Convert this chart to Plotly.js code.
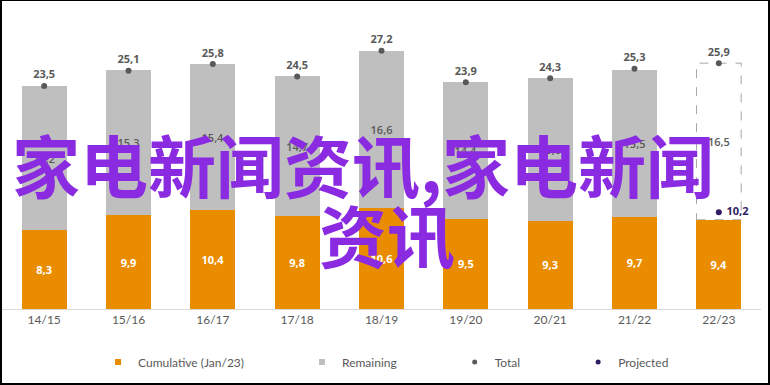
<!DOCTYPE html>
<html>
<head>
<meta charset="utf-8">
<script src="https://cdn.plot.ly/plotly-3.0.1.min.js"></script>
<style>
html,body{margin:0;padding:0;background:#fff;}
#chart{box-sizing:border-box;width:770px;height:385px;border-style:solid;border-color:#000;border-width:1px 2px 2px 2px;}
</style>
</head>
<body>
<div id="chart"></div>
<script>
var seasons = ["14/15","15/16","16/17","17/18","18/19","19/20","20/21","21/22","22/23"];
var cumulative = [8.3, 9.9, 10.4, 9.8, 10.6, 9.5, 9.3, 9.7, 9.4];
var remaining = [15.2, 15.3, 15.4, 14.7, 16.6, 14.4, 15.0, 15.5, 16.5];
var totals = [23.5, 25.1, 25.8, 24.5, 27.2, 23.9, 24.3, 25.3, 25.9];
var projectedSeason = ["22/23"];
var projected = [10.2];
var legendNames = ["Cumulative (Jan/23)", "Remaining", "Total", "Projected"];
var titleLine1 = "家电新闻资讯,家电新闻";
var titleLine2 = "资讯";

var orange = "#EA8C00", grey = "#BFBFBF", dark = "#595959", purple = "#2E1D62";
var barWidth = 0.53;
var lastIdx = seasons.length - 1;
var pad = "\u2003\u2003\u2003\u2003\u2003\u2002\u2006";

var remColors = remaining.map(function(v, i){ return i === lastIdx ? "rgba(0,0,0,0)" : grey; });

var traces = [
  {type:"bar", x:seasons, y:cumulative, name:legendNames[0], marker:{color:orange},
   width:barWidth, showlegend:false, texttemplate:"%{y:.1f}", textposition:"inside",
   insidetextanchor:"middle", constraintext:"none", textangle:0,
   textfont:{family:"Open Sans", size:11, color:"#fff", weight:700}, hoverinfo:"skip"},
  {type:"bar", x:seasons, y:remaining, name:legendNames[1], marker:{color:remColors},
   width:barWidth, showlegend:false, texttemplate:"%{y:.1f}", textposition:"inside",
   insidetextanchor:"middle", constraintext:"none", textangle:0,
   textfont:{family:"Open Sans", size:11, color:dark, weight:600}, hoverinfo:"skip"},
  {type:"scatter", mode:"markers+text", x:seasons, y:totals, name:legendNames[2], showlegend:false,
   marker:{color:dark, size:6}, texttemplate:"%{y:.1f}", textposition:"top center",
   textfont:{family:"Open Sans", size:11, color:dark, weight:700}, cliponaxis:false},
  {type:"scatter", mode:"markers+text", x:projectedSeason, y:projected, name:legendNames[3], showlegend:false,
   marker:{color:purple, size:6}, texttemplate:" %{y:.1f}", textposition:"middle right",
   textfont:{family:"Open Sans", size:11, color:purple, weight:700}, cliponaxis:false},
  // legend entries
  {type:"scatter", mode:"markers", x:[null], y:[null], name:legendNames[0] + pad, marker:{color:orange, size:6, symbol:"square"}},
  {type:"scatter", mode:"markers", x:[null], y:[null], name:legendNames[1] + pad, marker:{color:grey, size:6, symbol:"square"}},
  {type:"scatter", mode:"markers", x:[null], y:[null], name:legendNames[2] + pad, marker:{color:dark, size:5}},
  {type:"scatter", mode:"markers", x:[null], y:[null], name:legendNames[3], marker:{color:purple, size:5}}
];

var layout = {
  width:766, height:382,
  margin:{l:0, r:7, t:9, b:74},
  paper_bgcolor:"#fff", plot_bgcolor:"#fff",
  barmode:"stack",
  separators:",.",
  showlegend:true,
  legend:{orientation:"h", x:0.506, xanchor:"center", y:-0.177, yanchor:"middle",
          font:{family:"Lato", size:12, color:dark}, itemwidth:30, traceorder:"normal"},
  xaxis:{type:"category", range:[-0.5, 8.5], showgrid:false, showline:true, linecolor:"#D9D9D9",
         linewidth:1, ticks:"", tickfont:{family:"Lato", size:12, color:dark}, fixedrange:true},
  yaxis:{range:[0, 31.5], visible:false, showgrid:false, zeroline:false, fixedrange:true},
  shapes:[{type:"rect", xref:"x", yref:"y", x0:lastIdx - barWidth/2, x1:lastIdx + barWidth/2,
           y0:cumulative[lastIdx], y1:totals[lastIdx], line:{color:"#A6A6A6", width:1, dash:"dash"},
           fillcolor:"rgba(0,0,0,0)", layer:"below"}],
  annotations:[
    {text:titleLine1, xref:"paper", yref:"paper", x:0.476, y:0.488, xanchor:"center", yanchor:"middle",
     showarrow:false, font:{family:"Noto Sans CJK SC", size:68, color:"#8A2BE2", weight:700}},
    {text:titleLine2, xref:"paper", yref:"paper", x:0.507, y:0.254, xanchor:"center", yanchor:"middle",
     showarrow:false, font:{family:"Noto Sans CJK SC", size:68, color:"#8A2BE2", weight:700}}
  ]
};

Plotly.newPlot("chart", traces, layout, {displayModeBar:false, staticPlot:true});
</script>
</body>
</html>
